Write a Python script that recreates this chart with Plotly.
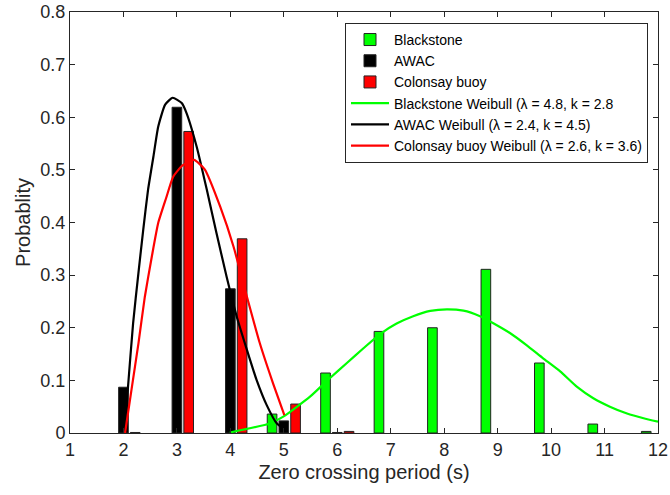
import plotly.graph_objects as go

# ---- data ----
bins = [2, 3, 4, 5, 6, 7, 8, 9, 10, 11, 12]
blackstone = [None, None, None, 0.036, 0.114, 0.193, 0.200, 0.311, 0.133, 0.017, 0.003]
awac = [0.087, 0.619, 0.274, 0.023, 0.001, None, None, None, None, None, None]
colonsay = [0.001, 0.573, 0.369, 0.055, 0.003, None, None, None, None, None, None]

awac_fit_x = [2.016, 2.09, 2.18, 2.28, 2.37, 2.46, 2.56, 2.65, 2.78, 2.92, 3.09, 3.18, 3.37, 3.56, 3.74,
              3.93, 4.12, 4.31, 4.49, 4.68, 4.87, 5.0]
awac_fit_y = [0.0, 0.094, 0.208, 0.304, 0.386, 0.462, 0.525, 0.582, 0.624, 0.637, 0.627, 0.608, 0.544, 0.462, 0.380,
              0.297, 0.221, 0.158, 0.101, 0.053, 0.018, 0.008]

colonsay_fit_x = [2.03, 2.15, 2.28, 2.40, 2.53, 2.65, 2.80, 2.93, 3.10, 3.32, 3.52, 3.81, 4.06, 4.31, 4.55, 4.80, 5.01]
colonsay_fit_y = [0.0, 0.082, 0.170, 0.259, 0.335, 0.399, 0.447, 0.487, 0.508, 0.519, 0.501, 0.430, 0.354, 0.259, 0.171, 0.094, 0.034]

blackstone_fit_x = [3.99, 4.74, 4.99, 5.49, 5.86, 6.18, 6.49, 6.80, 7.11, 7.42, 7.74, 8.05, 8.36, 8.67, 8.86, 9.23, 9.54,
                    9.85, 10.17, 10.48, 10.79, 11.10, 11.42, 11.73, 12.0]
blackstone_fit_y = [0.001, 0.018, 0.031, 0.069, 0.104, 0.133, 0.161, 0.188, 0.208, 0.222, 0.232, 0.235, 0.2325, 0.222, 0.212,
                    0.190, 0.167, 0.142, 0.117, 0.088, 0.066, 0.050, 0.037, 0.028, 0.0215]

x_ticks = list(range(1, 13))
y_ticks = [0, 0.1, 0.2, 0.3, 0.4, 0.5, 0.6, 0.7, 0.8]

FONT = "Liberation Sans, Arial, Helvetica, sans-serif"
GREEN, BLACK, RED = "#00ff00", "#000000", "#ff0000"
TXT = "#262626"

fig = go.Figure()
for name, vals, col in [("Blackstone", blackstone, GREEN), ("AWAC", awac, BLACK), ("Colonsay buoy", colonsay, RED)]:
    fig.add_trace(go.Bar(x=bins, y=vals, name=name, marker=dict(color=col, line=dict(color="#222222", width=1))))

for name, xs, ys, col in [
    ("Blackstone Weibull (λ = 4.8, k = 2.8", blackstone_fit_x, blackstone_fit_y, GREEN),
    ("AWAC Weibull (λ = 2.4, k = 4.5)", awac_fit_x, awac_fit_y, BLACK),
    ("Colonsay buoy Weibull (λ = 2.6, k = 3.6)", colonsay_fit_x, colonsay_fit_y, RED),
]:
    fig.add_trace(go.Scatter(x=xs, y=ys, name=name, mode="lines",
                             line=dict(color=col, width=2.2, shape="spline", smoothing=0.5)))

axis_common = dict(
    showline=True, linecolor=TXT, linewidth=1, mirror="ticks", automargin=False,
    ticks="inside", ticklen=5, tickcolor=TXT, showgrid=False, zeroline=False,
    tickfont=dict(family=FONT, size=18, color=TXT),
)

fig.update_layout(
    width=670, height=495,
    margin=dict(l=70, r=12, t=12, b=62),
    paper_bgcolor="white", plot_bgcolor="white",
    barmode="group", bargap=0.34, bargroupgap=0.18,
    font=dict(family=FONT, color=TXT),
    xaxis=dict(range=[1, 12], tickvals=x_ticks, ticktext=[str(v) for v in x_ticks],
               title=dict(text="Zero crossing period (s)", font=dict(family=FONT, size=20, color=TXT), standoff=6),
               **axis_common),
    yaxis=dict(range=[0, 0.8], tickvals=y_ticks, ticktext=["0"] + [f"{v:.1f}" for v in y_ticks[1:]],
               title=dict(text="Probablity", font=dict(family=FONT, size=20, color=TXT), standoff=4),
               **axis_common),
    legend=dict(x=0.983, y=0.974, xanchor="right", yanchor="top",
                bgcolor="white", bordercolor=TXT, borderwidth=1,
                font=dict(family=FONT, size=14, color="#000000"),
                tracegroupgap=0, itemwidth=38, traceorder="normal"),
    showlegend=True,
)

fig.write_html("out.html")
